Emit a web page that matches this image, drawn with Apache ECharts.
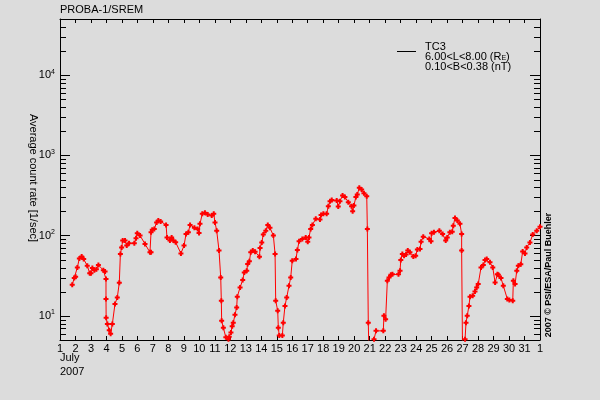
<!DOCTYPE html>
<html>
<head>
<meta charset="utf-8">
<script src="https://cdn.jsdelivr.net/npm/echarts@6/dist/echarts.min.js"></script>
<style>html,body{margin:0;padding:0;background:#dcdcdc}#c{width:600px;height:400px}</style>
</head>
<body>
<div id="c"></div>
<script>
// Day of July 2007 (fractional) and average count rate [1/sec]
const days = [1.79,1.92,2.01,2.12,2.25,2.40,2.53,2.76,2.92,3.00,3.09,3.22,3.35,3.48,3.80,3.91,3.97,3.97,3.98,4.06,4.18,4.27,4.38,4.55,4.70,4.83,4.90,4.98,5.05,5.20,5.31,5.46,5.80,5.91,5.99,6.17,6.49,6.81,6.88,6.88,6.96,7.09,7.24,7.35,7.50,7.85,7.91,8.10,8.21,8.32,8.47,8.81,9.01,9.14,9.29,9.40,9.68,9.89,9.98,10.04,10.19,10.36,10.54,10.80,10.93,11.01,11.12,11.27,11.38,11.42,11.44,11.55,11.71,11.88,11.93,12.04,12.12,12.19,12.30,12.41,12.45,12.63,12.80,12.90,13.06,13.12,13.23,13.32,13.45,13.60,13.88,13.92,14.03,14.13,14.29,14.42,14.56,14.78,14.89,14.93,15.06,15.10,15.16,15.36,15.42,15.53,15.64,15.79,15.90,16.00,16.24,16.33,16.44,16.65,16.87,17.00,17.08,17.19,17.30,17.52,17.79,17.86,18.01,18.22,18.33,18.44,18.55,18.87,18.97,19.08,19.25,19.40,19.62,19.83,19.90,19.98,20.11,20.20,20.33,20.48,20.63,20.81,20.85,20.91,20.96,21.25,21.28,21.41,21.88,21.92,22.03,22.14,22.25,22.37,22.47,22.86,22.96,23.01,23.11,23.22,23.35,23.46,23.60,23.82,23.97,24.08,24.25,24.32,24.46,24.85,24.96,25.00,25.15,25.50,25.71,25.91,26.01,26.18,26.33,26.40,26.51,26.66,26.83,26.94,26.94,27.00,27.12,27.16,27.22,27.30,27.41,27.48,27.65,27.80,27.91,28.01,28.19,28.34,28.45,28.56,28.77,28.95,29.10,29.25,29.31,29.48,29.63,29.89,30.02,30.24,30.28,30.39,30.50,30.60,30.76,30.88,31.03,31.14,31.35,31.53,31.79,32.00];
const rates = [24.4,29.6,30.7,40,52,55,51,42,34,34,39.5,37,38,43,37,35.8,28.7,16.2,9.5,7.9,6.6,6.0,7.9,14,16.9,25.9,59,71,86.6,86.6,75,80,80,92.5,107,100,78.7,61.8,61.8,110,118,121,146,154,150,136,95,86.6,95,86.6,82.4,60,75,105,110,136,125,121,108,140,187,192,183,178,187,146,115,65,30,15.4,8.7,7.1,5.4,5.1,5.5,6.2,7.4,8.2,10.3,12.7,17.3,22.6,27.9,34.8,36.5,44.3,47.8,61.8,65,63,54.6,70,82,103,115,136,125,100,59,15.4,11.6,7.1,5.7,5.7,8.2,13.3,16.9,23.7,30,48.7,51,66,85,91,95,84,95,121,136,162,159,181,187,187,232,268,278,274,230,268,316,302,261,232,201,237,302,325,395,375,338,310,121,8.2,3,3.5,5.1,6.5,6.5,10,9.1,27.4,30,32.5,33,33,36.5,49.7,59,56,58,65,62,55,56,67,68,84,97,91,85,107,110,115,105,86.6,95,110,112,133,166,154,140,105,65,3,3.5,5.1,8.2,10,13.3,17.3,17.8,20.1,22.6,24.9,40,43,49.7,51,46.5,40,26,33,32.5,29.6,23.7,16.2,15.8,15.4,27.4,24.9,36.5,42,44,63.5,60,71,82,103,115,129];
const xTickLabels = ['1','2','3','4','5','6','7','8','9','10','11','12','13','14','15','16','17','18','19','20','21','22','23','24','25','26','27','28','29','30','31','1'];
const yMin = 5, yMax = 50000;
const minorTickValues = [];
for (let e = 0; e <= 4; e++) for (let k = 2; k <= 9; k++) { const v = k * Math.pow(10, e); if (v >= yMin && v <= yMax) minorTickValues.push(v); }

const chart = echarts.init(document.getElementById('c'), null, {renderer: 'canvas'});
const FONT = 'Liberation Sans';
const black = '#000';
const seriesData = days.map((d, i) => [d, rates[i]]);

chart.setOption({
  backgroundColor: '#dcdcdc',
  animation: false,
  grid: {left: 60, right: 60, top: 19, bottom: 60},
  xAxis: [{
    type: 'value', min: 1, max: 32, interval: 1, position: 'bottom',
    axisLine: {show: true, lineStyle: {color: black, width: 1}},
    axisTick: {show: true, inside: true, length: 4, lineStyle: {color: black}},
    axisLabel: {color: black, fontFamily: FONT, fontSize: 11, margin: 3,
      formatter: v => xTickLabels[Math.round(v) - 1] || ''},
    splitLine: {show: false}
  }, {
    type: 'value', min: 1, max: 32, interval: 1, position: 'top',
    axisLine: {show: true, lineStyle: {color: black, width: 1}},
    axisTick: {show: true, inside: true, length: 4, lineStyle: {color: black}},
    axisLabel: {show: false}, splitLine: {show: false}
  }],
  yAxis: [{
    type: 'log', logBase: 10, min: yMin, max: yMax, position: 'left',
    axisLine: {show: true, lineStyle: {color: black, width: 1}},
    axisTick: {show: true, inside: true, length: 10, lineStyle: {color: black}},
    axisLabel: {color: black, fontFamily: FONT, margin: 5, showMinLabel: false, showMaxLabel: false,
      formatter: v => {
        const e = Math.log10(v);
        if (Math.abs(e - Math.round(e)) > 1e-6) return '';
        return '{b|10}{e|' + Math.round(e) + '}';
      },
      rich: {b: {fontSize: 11, fontFamily: FONT, color: black, lineHeight: 14},
             e: {fontSize: 7, fontFamily: FONT, color: black, verticalAlign: 'top', lineHeight: 8}}
    },
    splitLine: {show: false}
  }, {
    type: 'log', logBase: 10, min: yMin, max: yMax, position: 'right',
    axisLine: {show: true, lineStyle: {color: black, width: 1}},
    axisTick: {show: true, inside: true, length: 10, lineStyle: {color: black}},
    axisLabel: {show: false}, splitLine: {show: false}
  }],
  series: [{
    type: 'line', xAxisIndex: 0, yAxisIndex: 0,
    data: seriesData,
    clip: true,
    lineStyle: {color: '#ff0000', width: 1},
    itemStyle: {color: '#ff0000'},
    symbol: 'path://M1.5 0H3.5V1.5H5V3.5H3.5V5H1.5V3.5H0V1.5H1.5Z',
    symbolSize: 5,
    showSymbol: true,
    emphasis: {disabled: true},
    silent: true
  }, {
    type: 'custom', xAxisIndex: 0, yAxisIndex: 0, silent: true, clip: false,
    data: minorTickValues.map(v => [1, v]),
    renderItem: (params, api) => {
      const v = api.value(1);
      const p0 = api.coord([1, v]);
      const p1 = api.coord([32, v]);
      const y = Math.round(p0[1]) + 0.5;
      return {type: 'group', children: [
        {type: 'line', shape: {x1: p0[0], y1: y, x2: p0[0] + 6, y2: y}, style: {stroke: black, lineWidth: 1}},
        {type: 'line', shape: {x1: p1[0] - 6, y1: y, x2: p1[0], y2: y}, style: {stroke: black, lineWidth: 1}}
      ]};
    }
  }],
  graphic: [
    {type: 'text', left: 60, top: 4, style: {text: 'PROBA-1/SREM', font: '11px "Liberation Sans"', fill: black}},
    {type: 'text', x: 33, y: 178, rotation: -Math.PI / 2,
      style: {text: 'Average count rate [1/sec]', font: '11px "Liberation Sans"', fill: black, align: 'center', verticalAlign: 'middle'}},
    {type: 'text', x: 549, y: 275, rotation: Math.PI / 2,
      style: {text: '2007 © PSI/ESA/Paul Buehler', font: 'bold 9px "Liberation Sans"', fill: black, align: 'center', verticalAlign: 'middle'}},
    {type: 'text', left: 60, top: 352, style: {text: 'July', font: '11px "Liberation Sans"', fill: black}},
    {type: 'text', left: 60, top: 366, style: {text: '2007', font: '11px "Liberation Sans"', fill: black}},
    {type: 'line', shape: {x1: 397, y1: 51.5, x2: 416, y2: 51.5}, style: {stroke: black, lineWidth: 1}},
    {type: 'text', left: 425, top: 41, style: {text: 'TC3', font: '11px "Liberation Sans"', fill: black}},
    {type: 'text', left: 425, top: 51, style: {text: '6.00<L<8.00 (R{s|E})', fill: black,
      font: '11px "Liberation Sans"', rich: {s: {fontSize: 7, fontFamily: FONT, verticalAlign: 'bottom', fill: black}}}},
    {type: 'text', left: 425, top: 61, style: {text: '0.10<B<0.38 (nT)', font: '11px "Liberation Sans"', fill: black}}
  ]
});
</script>
</body>
</html>
